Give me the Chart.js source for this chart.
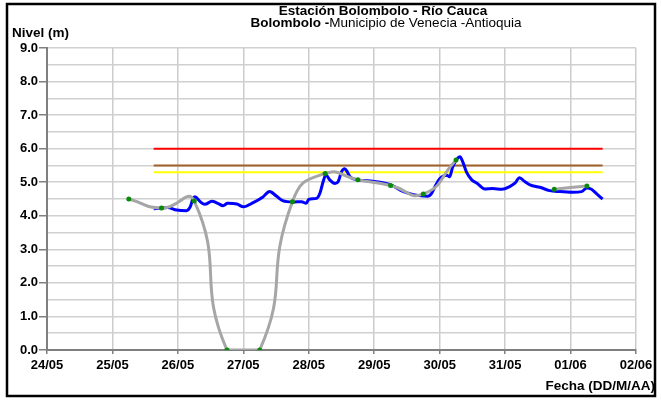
<!DOCTYPE html>
<html><head><meta charset="utf-8">
<script src="https://cdn.jsdelivr.net/npm/chart.js@4/dist/chart.umd.min.js"></script>
<style>html,body{margin:0;padding:0;background:#fff;}#wrap{width:661px;height:400px;position:relative;}canvas{display:block;}</style>
</head><body><div id="wrap"><canvas id="c" width="661" height="400" style="width:661px;height:400px;"></canvas></div>
<script>
// x values are days since 24/05 00:00
const tickLabels = ['24/05','25/05','26/05','27/05','28/05','29/05','30/05','31/05','01/06','02/06'];
const blueDays = [1.63,1.76,1.84,1.98,2.13,2.19,2.23,2.26,2.34,2.41,2.52,2.61,2.69,2.76,2.90,3.00,3.15,3.30,3.40,3.51,3.60,3.76,3.89,3.96,4.00,4.12,4.17,4.22,4.26,4.32,4.40,4.45,4.50,4.55,4.59,4.63,4.75,4.98,5.15,5.28,5.42,5.60,5.82,5.87,5.93,6.00,6.11,6.15,6.20,6.26,6.31,6.35,6.41,6.49,6.57,6.69,6.81,6.95,7.07,7.15,7.22,7.30,7.38,7.53,7.68,7.83,8.03,8.17,8.25,8.32,8.40,8.49];
const blueLevels = [4.21,4.23,4.25,4.17,4.15,4.27,4.52,4.57,4.42,4.34,4.43,4.37,4.30,4.37,4.35,4.27,4.39,4.56,4.72,4.58,4.45,4.41,4.42,4.37,4.49,4.52,4.67,5.02,5.22,5.07,4.96,5.02,5.31,5.40,5.30,5.16,5.07,5.03,4.98,4.90,4.74,4.63,4.58,4.65,4.87,5.10,5.21,5.16,5.46,5.68,5.76,5.62,5.30,5.07,4.97,4.80,4.81,4.79,4.87,4.97,5.13,5.02,4.92,4.85,4.75,4.72,4.70,4.72,4.83,4.79,4.65,4.50];
const readingDays = [1.25,1.75,2.25,2.75,3.25,3.75,4.25,4.75,5.25,5.75,6.25,6.75,7.25,7.75,8.25];
const readingLevels = [4.50,4.23,4.44,0,0,4.42,5.26,5.07,4.90,4.65,5.66,null,null,4.79,4.89];
const thresholdDays = [1.63, 8.49];
const redLevel = 6.0;
const brownLevel = 5.5;
const yellowLevel = 5.3;

const FONT = "'Liberation Sans', Arial, sans-serif";
const pts = (xs, ys) => xs.map((x, i) => ({x: x, y: ys[i]}));
const flat = (v) => thresholdDays.map(x => ({x: x, y: v}));

const decor = {
  id: 'decor',
  afterDraw(chart) {
    const ctx = chart.ctx;
    ctx.save();
    ctx.strokeStyle = '#000';
    ctx.lineWidth = 2.5;
    ctx.strokeRect(7, 4, 648, 392);
    ctx.fillStyle = '#000';
    ctx.textBaseline = 'middle';
    ctx.font = "bold 13.5px " + FONT;
    ctx.textAlign = 'center';
    ctx.fillText('Estación Bolombolo - Río Cauca', 383, 11);
    const b = 'Bolombolo -', n = 'Municipio de Venecia -Antioquia';
    ctx.font = "bold 13.5px " + FONT; const wb = ctx.measureText(b).width;
    ctx.font = "13.5px " + FONT; const wn = ctx.measureText(n).width;
    let x0 = 386 - (wb + wn) / 2;
    ctx.textAlign = 'left';
    ctx.font = "bold 13.5px " + FONT; ctx.fillText(b, x0, 23);
    ctx.font = "13.5px " + FONT; ctx.fillText(n, x0 + wb, 23);
    ctx.font = "bold 13.5px " + FONT;
    ctx.fillText('Nivel (m)', 12, 33);
    ctx.textAlign = 'right';
    ctx.fillText('Fecha (DD/M/AA)', 655, 386);
    ctx.restore();
  }
};

new Chart(document.getElementById('c'), {
  type: 'line',
  data: {
    datasets: [
      {data: pts(readingDays, readingLevels), borderColor: '#a6a6a6', borderWidth: 3, tension: 0.55,
       pointRadius: 2.5, pointBackgroundColor: '#0a8a0a', pointBorderWidth: 0, spanGaps: false, order: 0},
      {data: pts(blueDays, blueLevels), borderColor: '#0000ff', borderWidth: 3, tension: 0.4,
       cubicInterpolationMode: 'monotone', pointRadius: 0, order: 1},
      {data: flat(redLevel), borderColor: '#ff0000', borderWidth: 2, pointRadius: 0, order: 2},
      {data: flat(brownLevel), borderColor: '#a0602a', borderWidth: 2, pointRadius: 0, order: 2},
      {data: flat(yellowLevel), borderColor: '#ffff00', borderWidth: 2, pointRadius: 0, order: 2}
    ]
  },
  options: {
    responsive: false, animation: false, devicePixelRatio: 1,
    layout: {padding: {left: 0, right: 25, top: 48, bottom: 0}},
    plugins: {legend: {display: false}, title: {display: false}, tooltip: {enabled: false}},
    scales: {
      x: {
        type: 'linear', min: 0, max: 9,
        afterFit(s) { s.height = 50; },
        ticks: {stepSize: 1, autoSkip: false, maxRotation: 0, color: '#000', padding: 4,
          font: {family: FONT, size: 13, weight: 'bold'},
          callback: (v) => tickLabels[Math.round(v)]},
        grid: {color: '#cccccc', lineWidth: 1.5, tickLength: 4, tickColor: '#7f7f7f'},
        border: {color: '#7f7f7f', width: 2}
      },
      y: {
        min: 0, max: 9,
        afterFit(s) { s.width = 47; },
        ticks: {stepSize: 0.5, autoSkip: false, color: '#000', padding: 1,
          font: {family: FONT, size: 13, weight: 'bold'},
          callback: (v) => Number.isInteger(v) ? v.toFixed(1) : ''},
        grid: {color: '#d0d0d0', lineWidth: 1.5, tickLength: 8,
          tickColor: (c) => (c.tick && Number.isInteger(c.tick.value)) ? '#7f7f7f' : 'rgba(0,0,0,0)'},
        border: {color: '#7f7f7f', width: 2}
      }
    }
  },
  plugins: [decor]
});
</script></body></html>
